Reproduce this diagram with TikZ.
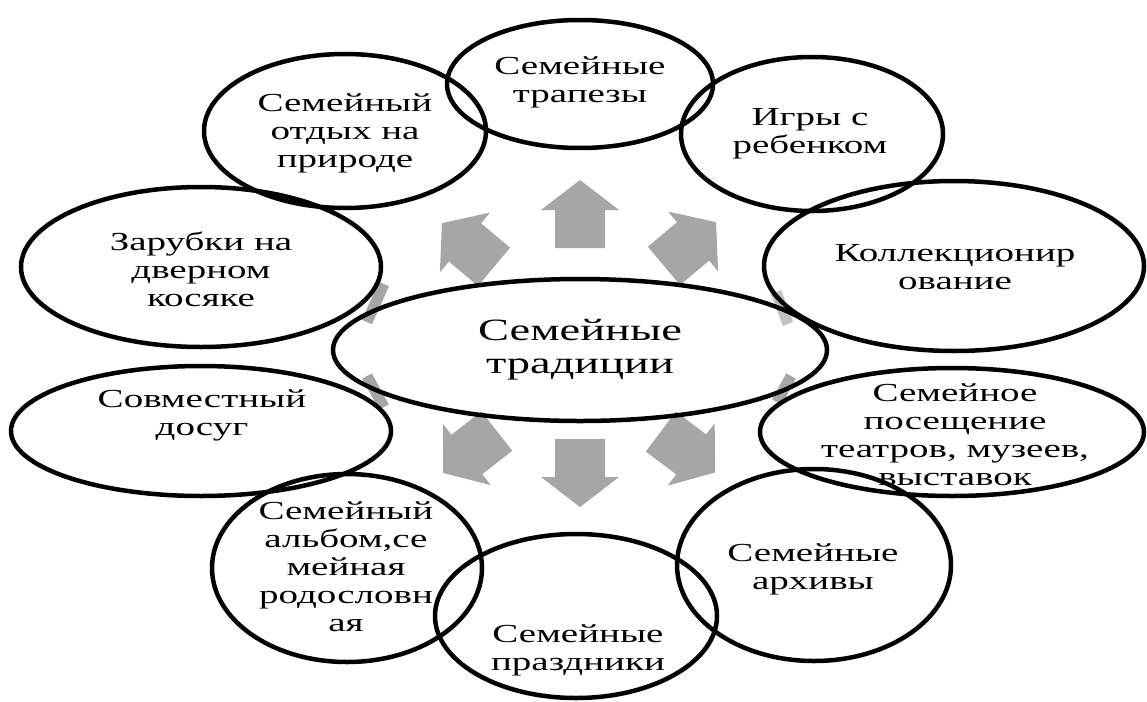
\documentclass[tikz,border=0pt]{standalone}
\usepackage{fontspec}
\setmainfont{Liberation Serif}[FakeStretch=1.5]
\usetikzlibrary{shapes.geometric}
\definecolor{arrowgray}{HTML}{A6A6A6}
\tikzset{
  oval/.style={draw=black, line width=4.5pt, ellipse, inner sep=0pt},
  lbl/.style={align=center, font=\fontsize{26}{28}\selectfont, inner sep=0pt},
  biglbl/.style={align=center, font=\fontsize{31}{33}\selectfont, inner sep=0pt},
  sliver/.style={draw=arrowgray, line width=11pt},
  barrow/.pic={\fill[arrowgray] (-34,-25) -- (4,-25) -- (4,-39) -- (34,0) -- (4,39) -- (4,25) -- (-34,25) -- cycle;}
}
\begin{document}
\begin{tikzpicture}[x=1pt,y=-1pt]
\useasboundingbox (0,0) rectangle (1147,701);
% block arrows
\pic[rotate=90] at (580,214) {barrow};
\pic[rotate=-90] at (580,473) {barrow};
\pic[rotate=140] at (468,245) {barrow};
\pic[rotate=40] at (690,244) {barrow};
\pic[rotate=-142] at (470,452) {barrow};
\pic[rotate=-37] at (688,452) {barrow};
% hidden side arrows (slivers)
\coordinate (s1a) at (384,284); \coordinate (s1b) at (367,322);
\coordinate (s2a) at (367,376); \coordinate (s2b) at (384,407);
\coordinate (s3a) at (776,292); \coordinate (s3b) at (788,324);
\coordinate (s4a) at (791,376); \coordinate (s4b) at (777,402);
\draw[sliver] (s1a) -- (s1b);
\draw[sliver] (s2a) -- (s2b);
\draw[sliver, draw=arrowgray!70] (s3a) -- (s3b);
\draw[sliver] (s4a) -- (s4b);
% ellipses
\node[oval, minimum width=266pt, minimum height=128pt] (trap) at (580,84) {};
\node[oval, minimum width=262pt, minimum height=154pt] (igry) at (812,134) {};
\node[oval, minimum width=282pt, minimum height=154pt] (otdyh) at (345,131) {};
\node[oval, minimum width=360pt, minimum height=160pt] (zarub) at (201,267) {};
\node[oval, minimum width=380pt, minimum height=170pt] (koll) at (954,266) {};
\node[oval, minimum width=494pt, minimum height=142pt] (center) at (580,350) {};
\node[oval, minimum width=380pt, minimum height=130pt] (sovm) at (201,431) {};
\node[oval, minimum width=384pt, minimum height=128pt] (pos) at (952,432) {};
\node[oval, minimum width=274pt, minimum height=192pt] (arh) at (814,565) {};
\node[oval, minimum width=282pt, minimum height=164pt] (praz) at (576,616) {};
\node[oval, minimum width=270pt, minimum height=188pt] (alb) at (347,568) {};
% texts
\node[lbl] (ttrap) at (580,82) {Семейные\\трапезы};
\node[lbl] (tigry) at (810,134) {Игры с\\ребенком};
\node[lbl] (totdyh) at (345,133) {Семейный\\отдых на\\природе};
\node[lbl] (tzarub) at (201,269) {Зарубки на\\дверном\\косяке};
\node[lbl] (tkoll) at (955,267) {Коллекционир\\ование};
\node[biglbl] (tcenter) at (580,350) {Семейные\\традиции};
\node[lbl] (tsovm) at (202,415) {Совместный\\досуг};
\node[lbl] (tpos) at (955,435) {Семейное\\посещение\\театров, музеев,\\выставок};
\node[lbl] (tarh) at (813,569) {Семейные\\архивы};
\node[lbl] (tpraz) at (578,650) {Семейные\\праздники};
\node[lbl] (talb) at (346,567) {Семейный\\альбом,се\\мейная\\родословн\\ая};
\end{tikzpicture}
\end{document}
